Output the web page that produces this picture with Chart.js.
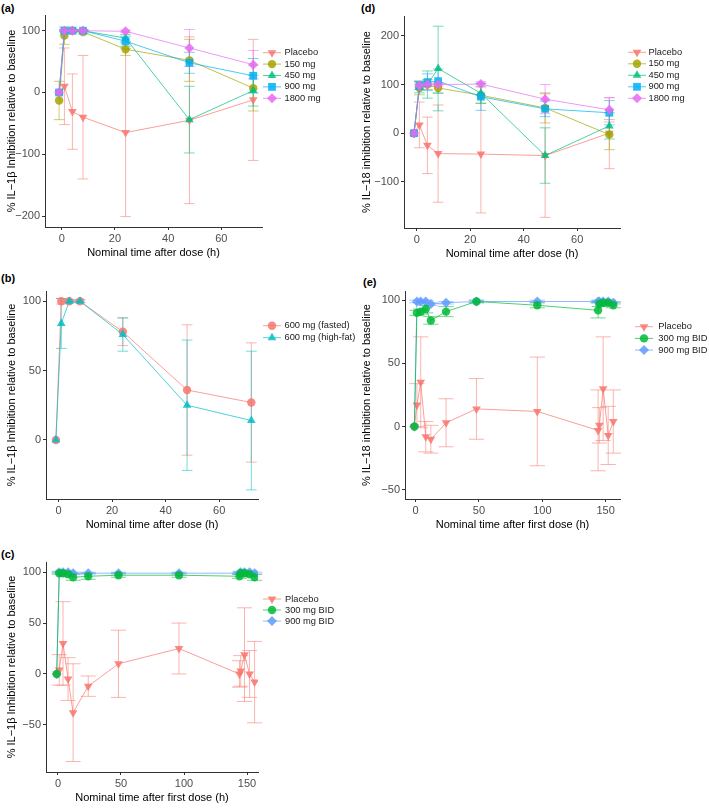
<!DOCTYPE html>
<html>
<head>
<meta charset="utf-8">
<script src="https://cdn.jsdelivr.net/npm/chart.js@4.4.1/dist/chart.umd.min.js"></script>
<style>
  body { margin: 0; background: #fff; width: 709px; height: 810px; position: relative; overflow: hidden; font-family: "Liberation Sans", Arial, sans-serif; }
  canvas { position: absolute; }
  .tag { position: absolute; font-weight: bold; font-size: 11px; color: #000; line-height: 13px; }
</style>
</head>
<body>
<div class="tag" style="left:1px;top:2px">(a)</div>
<div class="tag" style="left:361px;top:2px">(d)</div>
<div class="tag" style="left:1px;top:272px">(b)</div>
<div class="tag" style="left:363px;top:276px">(e)</div>
<div class="tag" style="left:1px;top:548px">(c)</div>

<canvas id="chartA" width="355" height="265" style="left:0;top:0"></canvas>
<canvas id="chartD" width="354" height="266" style="left:355px;top:0"></canvas>
<canvas id="chartE" width="354" height="267" style="left:355px;top:270px"></canvas>
<canvas id="chartB" width="365" height="267" style="left:0;top:270px"></canvas>
<canvas id="chartC" width="355" height="270" style="left:0;top:540px"></canvas>

<script>
// Nominal sampling times (h); pre-dose plotted at -1
const timesSingle = [-1, 1, 4, 8, 24, 48, 72];
const timesBid = [-1, 1, 4, 8, 12, 24, 48, 96, 144, 145, 148, 152, 156];

const singleDoseLabels = ['Placebo', '150 mg', '450 mg', '900 mg', '1800 mg'];
const foodLabels = ['600 mg (fasted)', '600 mg (high-fat)'];
const bidLabels = ['Placebo', '300 mg BID', '900 mg BID'];

const xTicksSingle = [0, 20, 40, 60];
const xTicksBid = [0, 50, 100, 150];
const yTicksA = [-200, -100, 0, 100];
const yTicksD = [-100, 0, 100, 200];
const yTicksB = [0, 50, 100];
const yTicksCE = [-50, 0, 50, 100];

// (a) IL-1β, single ascending dose: mean and SD
const il1bPlacebo = [0, 10, -31, -40, -65, -45, -12];
const il1bPlaceboSd = [0, 62, 61, 100, 136, 135, 98];
const il1b150 = [-13, 92, 100, 98, 70, 52, 7];
const il1b150Sd = [31, 14, 3, 3, 10, 34, 37];
const il1b450 = [0, 100, 100, 100, 88, -44, 3];
const il1b450Sd = [0, 2, 2, 2, 6, 54, 25];
const il1b900 = [0, 100, 100, 100, 83, 48, 27];
const il1b900Sd = [0, 1, 1, 1, 8, 17, 28];
const il1b1800 = [0, 100, 100, 100, 99, 72, 45];
const il1b1800Sd = [0, 1, 1, 1, 2, 30, 23];

// (d) IL-18, single ascending dose
const il18Placebo = [0, 17, -25, -42, -43, -46, 0];
const il18PlaceboSd = [0, 47, 58, 100, 121, 127, 73];
const il18150 = [0, 93, 100, 93, 78, 52, -3];
const il18150Sd = [0, 14, 10, 10, 17, 31, 31];
const il18450 = [0, 95, 100, 133, 82, -46, 15];
const il18450Sd = [0, 12, 28, 87, 20, 57, 27];
const il18900 = [0, 98, 105, 107, 75, 50, 42];
const il18900Sd = [0, 8, 17, 25, 28, 16, 25];
const il181800 = [0, 98, 100, 100, 101, 70, 48];
const il181800Sd = [0, 3, 3, 3, 5, 30, 25];

// (b) IL-1β, food effect
const fasted = [0, 100, 100, 100, 78, 36, 27];
const fastedSd = [0, 2, 1, 1, 10, 47, 43];
const highFat = [0, 84, 100, 100, 76, 25, 14];
const highFatSd = [0, 18, 1, 1, 12, 47, 50];

// (c) IL-1β, multiple dose BID
const bidIl1bPlacebo = [0, 4, 30, -5, -38, -12, 10, 25, 0, 3, 19, 0, -8];
const bidIl1bPlaceboSd = [0, 15, 41, 21, 48, 10, 33, 25, 13, 15, 46, 23, 40];
const bidIl1b300 = [0, 99, 99, 98, 95, 96, 97, 97, 96, 99, 99, 98, 95];
const bidIl1b300Sd = [0, 1, 1, 2, 3, 3, 2, 2, 2, 1, 1, 2, 3];
const bidIl1b900 = [0, 100, 100, 100, 99, 99, 99, 99, 99, 100, 100, 100, 99];
const bidIl1b900Sd = [0, 1, 1, 1, 1, 1, 1, 1, 1, 1, 1, 1, 1];

// (e) IL-18, multiple dose BID
const bidIl18Placebo = [0, 17, 35, -8, -10, 3, 14, 12, -3, 1, 30, -7, 4];
const bidIl18PlaceboSd = [0, 17, 36, 12, 11, 19, 24, 43, 32, 14, 41, 23, 25];
const bidIl18300 = [0, 90, 91, 93, 84, 91, 99, 96, 92, 97, 98, 98, 96];
const bidIl18300Sd = [0, 2, 2, 3, 3, 4, 1, 2, 6, 2, 2, 2, 2];
const bidIl18900 = [0, 99, 99, 99, 97, 98, 99, 99, 99, 99, 99, 99, 98];
const bidIl18900Sd = [0, 1, 1, 1, 1, 1, 1, 1, 1, 1, 1, 1, 1];

// ggplot default hues
const hue5 = ['#F8766D', '#A3A500', '#00BF7D', '#00B0F6', '#E76BF3'];
const hue2 = ['#F8766D', '#00BFC4'];
const hue3 = ['#F8766D', '#00BA38', '#619CFF'];

Chart.defaults.font.family = '"Liberation Sans", Arial, Helvetica, sans-serif';

const hexA = (hex, a) => {
  const n = parseInt(hex.slice(1), 16);
  return `rgba(${n >> 16},${(n >> 8) & 255},${n & 255},${a})`;
};
const fmt = v => (v < 0 ? '\u2212' + Math.abs(v) : String(v));

// marker shapes: [pointStyle, rotation, radius]
const shapes = {
  down: ['triangle', 180, 5],
  circle: ['circle', 0, 4.2],
  up: ['triangle', 0, 5],
  square: ['rect', 0, 5.5],
  diamond: ['rectRot', 0, 5]
};

function series(label, xs, ys, sd, color, shape) {
  const [style, rot, r] = shapes[shape];
  return {
    label: label,
    sd: sd,
    baseColor: color,
    data: xs.map((x, i) => ({ x: x, y: ys[i] })),
    borderColor: hexA(color, 0.7),
    borderWidth: 1,
    pointBackgroundColor: hexA(color, 0.85),
    pointBorderColor: 'rgba(0,0,0,0)',
    pointBorderWidth: 0,
    pointStyle: style,
    pointRotation: rot,
    pointRadius: r,
    pointHoverRadius: r,
    tension: 0
  };
}

// SD error bars, drawn through the chart scales
const errorBars = {
  id: 'errorBars',
  beforeDatasetsDraw(chart, args, opts) {
    const { ctx, scales: { x, y } } = chart;
    const half = opts.capWidth / 2;
    ctx.save();
    ctx.lineWidth = 1;
    chart.data.datasets.forEach(ds => {
      ctx.strokeStyle = hexA(ds.baseColor, 0.55);
      ds.data.forEach((p, j) => {
        const e = ds.sd[j];
        if (!e) return;
        const px = x.getPixelForValue(p.x);
        const x0 = x.getPixelForValue(p.x - half);
        const x1 = x.getPixelForValue(p.x + half);
        const yt = y.getPixelForValue(p.y + e);
        const yb = y.getPixelForValue(p.y - e);
        ctx.beginPath();
        ctx.moveTo(px, yt); ctx.lineTo(px, yb);
        ctx.moveTo(x0, yt); ctx.lineTo(x1, yt);
        ctx.moveTo(x0, yb); ctx.lineTo(x1, yb);
        ctx.stroke();
      });
    });
    ctx.restore();
  }
};

// ggplot-like legend: line through marker, label to the right
const sideLegend = {
  id: 'sideLegend',
  afterDraw(chart, args, opts) {
    const ctx = chart.ctx;
    ctx.save();
    ctx.font = `${opts.fontSize}px ${Chart.defaults.font.family}`;
    ctx.textBaseline = 'middle';
    chart.data.datasets.forEach((ds, i) => {
      const y = opts.y + i * opts.step;
      ctx.strokeStyle = ds.borderColor;
      ctx.lineWidth = 1;
      ctx.beginPath();
      ctx.moveTo(opts.x, y);
      ctx.lineTo(opts.x + opts.len, y);
      ctx.stroke();
      ctx.fillStyle = ds.pointBackgroundColor;
      Chart.helpers.drawPoint(ctx, {
        pointStyle: ds.pointStyle, rotation: ds.pointRotation, radius: ds.pointRadius, borderWidth: 0
      }, opts.x + opts.len / 2, y);
      ctx.fillStyle = '#1a1a1a';
      ctx.fillText(ds.label, opts.textX, y);
    });
    ctx.restore();
  }
};

function makePanel(id, p) {
  // lower order = drawn on top; default puts later groups on top like ggplot
  p.datasets.forEach((d, i) => { d.order = p.drawOrder ? p.drawOrder[i] : -i; });
  const axisCommon = {
    type: 'linear',
    grid: { drawOnChartArea: false, tickLength: 3, color: '#333' },
    border: { color: '#333', width: 1 }
  };
  return new Chart(document.getElementById(id), {
    type: 'line',
    data: { datasets: p.datasets },
    plugins: [errorBars, sideLegend],
    options: {
      responsive: false,
      animation: false,
      devicePixelRatio: 1,
      layout: { padding: { left: 0, top: p.padTop, right: p.padRight, bottom: 0 } },
      plugins: {
        legend: { display: false },
        tooltip: { enabled: false },
        errorBars: { capWidth: p.cap },
        sideLegend: p.legend
      },
      scales: {
        x: Object.assign({}, axisCommon, {
          min: p.xMin, max: p.xMax,
          afterFit: s => { s.height = 38; },
          afterBuildTicks: s => { s.ticks = p.xTicks.map(v => ({ value: v })); },
          ticks: { color: '#4d4d4d', font: { size: 11 }, padding: 2, maxRotation: 0, autoSkip: false, callback: fmt },
          title: { display: true, text: p.xTitle, color: '#000', font: { size: 11 }, padding: { top: 0, bottom: 5 } }
        }),
        y: Object.assign({}, axisCommon, {
          min: p.yMin, max: p.yMax,
          afterFit: s => { s.width = p.yWidth; },
          afterBuildTicks: s => { s.ticks = p.yTicks.map(v => ({ value: v })); },
          ticks: { color: '#4d4d4d', font: { size: 11 }, padding: 2, autoSkip: false, callback: fmt },
          title: { display: true, text: p.yTitle, color: '#000', font: { size: 11 }, padding: { top: 5, bottom: 0 } }
        })
      }
    }
  });
}

const il1bTitle = '% IL\u22121\u03b2 Inhibition relative to baseline';
const il18Title = '% IL\u221218 inhibition relative to baseline';

makePanel('chartA', {
  datasets: [
    series(singleDoseLabels[0], timesSingle, il1bPlacebo, il1bPlaceboSd, hue5[0], 'down'),
    series(singleDoseLabels[1], timesSingle, il1b150, il1b150Sd, hue5[1], 'circle'),
    series(singleDoseLabels[2], timesSingle, il1b450, il1b450Sd, hue5[2], 'up'),
    series(singleDoseLabels[3], timesSingle, il1b900, il1b900Sd, hue5[3], 'square'),
    series(singleDoseLabels[4], timesSingle, il1b1800, il1b1800Sd, hue5[4], 'diamond')
  ],
  xMin: -6.3, xMax: 75.3, yMin: -217.8, yMax: 125.4,
  xTicks: xTicksSingle, yTicks: yTicksA, cap: 4,
  xTitle: 'Nominal time after dose (h)', yTitle: il1bTitle,
  yWidth: 45, padTop: 15, padRight: 93,
  legend: { x: 263, textX: 284.5, y: 52.7, step: 11.4, len: 18, fontSize: 9.3 }
});

makePanel('chartD', {
  datasets: [
    series(singleDoseLabels[0], timesSingle, il18Placebo, il18PlaceboSd, hue5[0], 'down'),
    series(singleDoseLabels[1], timesSingle, il18150, il18150Sd, hue5[1], 'circle'),
    series(singleDoseLabels[2], timesSingle, il18450, il18450Sd, hue5[2], 'up'),
    series(singleDoseLabels[3], timesSingle, il18900, il18900Sd, hue5[3], 'square'),
    series(singleDoseLabels[4], timesSingle, il181800, il181800Sd, hue5[4], 'diamond')
  ],
  xMin: -4.75, xMax: 76, yMin: -195, yMax: 241,
  xTicks: xTicksSingle, yTicks: yTicksD, cap: 4,
  xTitle: 'Nominal time after dose (h)', yTitle: il18Title,
  yWidth: 49, padTop: 16, padRight: 89,
  legend: { x: 273, textX: 293.5, y: 52.3, step: 11.5, len: 18, fontSize: 9.3 }
});

makePanel('chartB', {
  datasets: [
    series(foodLabels[0], timesSingle, fasted, fastedSd, hue2[0], 'circle'),
    series(foodLabels[1], timesSingle, highFat, highFatSd, hue2[1], 'up')
  ],
  xMin: -4.7, xMax: 74.5, yMin: -42.6, yMax: 107.4,
  xTicks: xTicksSingle, yTicks: yTicksB, cap: 4,
  xTitle: 'Nominal time after dose (h)', yTitle: il1bTitle,
  yWidth: 46, padTop: 21, padRight: 107,
  legend: { x: 263, textX: 284.5, y: 55.7, step: 12, len: 18, fontSize: 9.3 }
});

makePanel('chartE', {
  datasets: [
    series(bidLabels[0], timesBid, bidIl18Placebo, bidIl18PlaceboSd, hue3[0], 'down'),
    series(bidLabels[1], timesBid, bidIl18300, bidIl18300Sd, hue3[1], 'circle'),
    series(bidLabels[2], timesBid, bidIl18900, bidIl18900Sd, hue3[2], 'diamond')
  ],
  drawOrder: [-2, -3, -1],
  xMin: -8.4, xMax: 161.3, yMin: -57.3, yMax: 107.3,
  xTicks: xTicksBid, yTicks: yTicksCE, cap: 12,
  xTitle: 'Nominal time after first dose (h)', yTitle: il18Title,
  yWidth: 50, padTop: 21, padRight: 89,
  legend: { x: 280, textX: 303.3, y: 56.7, step: 11.7, len: 18, fontSize: 9.3 }
});

makePanel('chartC', {
  datasets: [
    series(bidLabels[0], timesBid, bidIl1bPlacebo, bidIl1bPlaceboSd, hue3[0], 'down'),
    series(bidLabels[1], timesBid, bidIl1b300, bidIl1b300Sd, hue3[1], 'circle'),
    series(bidLabels[2], timesBid, bidIl1b900, bidIl1b900Sd, hue3[2], 'diamond')
  ],
  drawOrder: [-2, -3, -1],
  xMin: -9.5, xMax: 158.7, yMin: -96.3, yMax: 110,
  xTicks: xTicksBid, yTicks: yTicksCE, cap: 12,
  xTitle: 'Nominal time after first dose (h)', yTitle: il1bTitle,
  yWidth: 46, padTop: 22, padRight: 97,
  legend: { x: 263, textX: 285, y: 59, step: 11, len: 18, fontSize: 9.3 }
});
</script>
</body>
</html>
